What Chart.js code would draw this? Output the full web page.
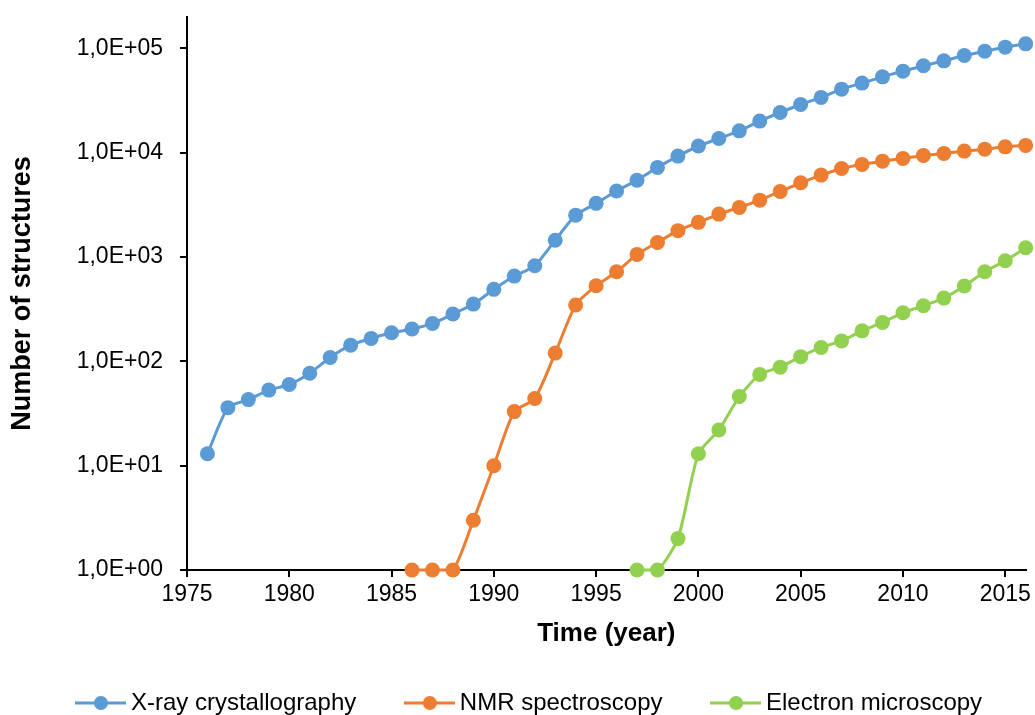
<!DOCTYPE html>
<html>
<head>
<meta charset="utf-8">
<script src="https://cdn.jsdelivr.net/npm/chart.js@4.4.0/dist/chart.umd.min.js"></script>
<style>
  html, body { margin: 0; padding: 0; background: #fff; overflow: hidden; }
  canvas { display: block; }
</style>
</head>
<body>
<canvas id="pdbChart" width="1035" height="725"></canvas>
<script>
// ── DATA ──
const years = [
  1976, 1977, 1978, 1979, 1980, 1981, 1982, 1983, 1984, 1985,
  1986, 1987, 1988, 1989, 1990, 1991, 1992, 1993, 1994, 1995,
  1996, 1997, 1998, 1999, 2000, 2001, 2002, 2003, 2004, 2005,
  2006, 2007, 2008, 2009, 2010, 2011, 2012, 2013, 2014, 2015, 2016
];
const xrayValues = [
  13, 36, 43, 53, 60, 77, 109, 143, 166, 188,
  204, 231, 284, 354, 490, 657, 825, 1450, 2520, 3270,
  4290, 5460, 7230, 9280, 11600, 13700, 16200, 20100, 24300, 29000,
  33900, 40700, 46500, 53400, 60500, 68100, 76000, 85500, 94100, 102800, 110600
];
const nmrValues = [
  null, null, null, null, null, null, null, null, null, null,
  1, 1, 1, 3, 10, 33, 44, 120, 347, 530,
  722, 1060, 1380, 1790, 2150, 2580, 2990, 3510, 4260, 5150,
  6100, 7070, 7730, 8300, 8820, 9420, 9850, 10360, 10820, 11390, 11750
];
const emValues = [
  null, null, null, null, null, null, null, null, null, null,
  null, null, null, null, null, null, null, null, null, null,
  null, 1, 1, 2, 13, 22, 46, 75, 88, 111,
  136, 157, 196, 236, 292, 341, 404, 527, 722, 921, 1227
];
const seriesNames = ['X-ray crystallography', 'NMR spectroscopy', 'Electron microscopy'];
const seriesColors = ['#5B9BD5', '#ED7D31', '#92D050'];
const xTickValues = [1975, 1980, 1985, 1990, 1995, 2000, 2005, 2010, 2015];
const yTickValues = [1, 10, 100, 1000, 10000, 100000];
const yTickLabels = ['1,0E+00', '1,0E+01', '1,0E+02', '1,0E+03', '1,0E+04', '1,0E+05'];

const FONT = "'Liberation Sans', Arial, sans-serif";

const toPoints = vals => years
  .map((yr, i) => ({ x: yr, y: vals[i] }))
  .filter(p => p.y !== null);

// legend marker: line with a dot, drawn on the right part of a small canvas
function legendMarker(color) {
  const c = document.createElement('canvas');
  c.width = 88;
  c.height = 16;
  const g = c.getContext('2d');
  g.strokeStyle = color;
  g.lineWidth = 3;
  g.beginPath();
  g.moveTo(37, 8);
  g.lineTo(88, 8);
  g.stroke();
  g.fillStyle = color;
  g.beginPath();
  g.arc(63, 8, 7, 0, Math.PI * 2);
  g.fill();
  return c;
}
const markers = seriesColors.map(legendMarker);

const datasets = [xrayValues, nmrValues, emValues].map((vals, i) => ({
  label: seriesNames[i],
  data: toPoints(vals),
  borderColor: seriesColors[i],
  backgroundColor: seriesColors[i],
  borderWidth: 3,
  pointRadius: 7.5,
  pointHoverRadius: 7.5,
  pointBorderWidth: 0,
  tension: 0.22,
  clip: false,
}));

new Chart(document.getElementById('pdbChart').getContext('2d'), {
  type: 'line',
  data: { datasets },
  options: {
    responsive: false,
    animation: false,
    layout: { padding: { top: 17, right: 8, bottom: 0, left: 0 } },
    plugins: {
      tooltip: { enabled: false },
      legend: {
        position: 'bottom',
        labels: {
          usePointStyle: true,
          pointStyleWidth: 74,
          padding: 17.5,
          color: '#000',
          font: { family: FONT, size: 24 },
          generateLabels: chart =>
            Chart.defaults.plugins.legend.labels.generateLabels(chart).map((item, i) => ({
              ...item,
              pointStyle: markers[i],
            })),
        },
      },
    },
    scales: {
      x: {
        type: 'linear',
        min: 1975,
        max: 2016,
        afterBuildTicks: scale => { scale.ticks = xTickValues.map(v => ({ value: v })); },
        afterFit: scale => { scale.height = 103.5; },
        ticks: {
          color: '#000',
          padding: 4,
          maxRotation: 0,
          autoSkip: false,
          font: { family: FONT, size: 23 },
          callback: v => String(v),
        },
        grid: { drawOnChartArea: false, drawTicks: true, tickLength: 7, color: '#000', lineWidth: 2 },
        border: { display: true, color: '#000', width: 2 },
        title: {
          display: true,
          text: 'Time (year)',
          color: '#000',
          font: { family: FONT, size: 26, weight: 'bold' },
          padding: { top: 0, bottom: 24 },
        },
      },
      y: {
        type: 'logarithmic',
        min: 1,
        max: 200000,
        afterBuildTicks: scale => { scale.ticks = yTickValues.map(v => ({ value: v })); },
        afterFit: scale => {
          scale.width = 187;
          scale.paddingTop = 0;
          scale.paddingBottom = 0;
        },
        ticks: {
          color: '#000',
          padding: 17,
          autoSkip: false,
          font: { family: FONT, size: 23 },
          callback: v => yTickLabels[yTickValues.indexOf(v)],
        },
        grid: { drawOnChartArea: false, drawTicks: true, tickLength: 7, color: '#000', lineWidth: 2 },
        border: { display: true, color: '#000', width: 2 },
        title: {
          display: true,
          text: 'Number of structures',
          color: '#000',
          font: { family: FONT, size: 27, weight: 'bold' },
          padding: { top: 6, bottom: 0 },
        },
      },
    },
  },
});
</script>
</body>
</html>
